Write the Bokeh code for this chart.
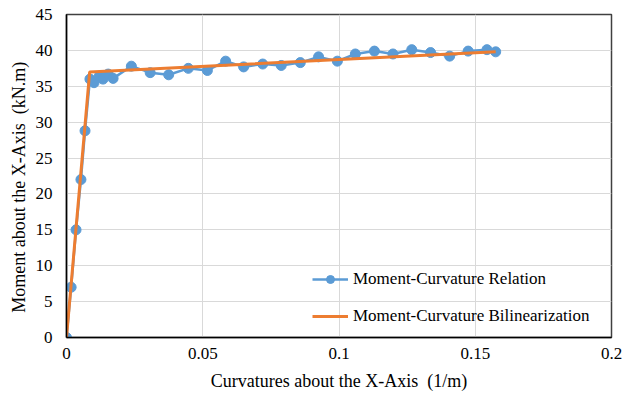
from bokeh.plotting import figure
from bokeh.models import Range1d, FixedTicker, Legend, LegendItem
from bokeh.embed import file_html
from bokeh.resources import INLINE

# Moment-curvature response (curvature in 1/m, moment in kN.m)
curvature = [0.0, 0.0017, 0.0035, 0.0053, 0.0068, 0.0086, 0.0101, 0.0120, 0.0134,
             0.0153, 0.0171, 0.0238, 0.0307, 0.0375, 0.0447, 0.0517, 0.0584,
             0.0650, 0.0720, 0.0788, 0.0858, 0.0925, 0.0994, 0.1060, 0.1130,
             0.1198, 0.1267, 0.1336, 0.1406, 0.1474, 0.1543, 0.1575]
moment = [0.0, 7.0, 15.0, 22.0, 28.8, 36.0, 35.5, 36.4, 36.0,
          36.7, 36.1, 37.8, 36.9, 36.6, 37.5, 37.2, 38.5,
          37.7, 38.1, 37.9, 38.3, 39.1, 38.5, 39.5, 39.9,
          39.5, 40.1, 39.7, 39.2, 39.9, 40.1, 39.8]

# Bilinear idealisation
bilin_curv = [0.0, 0.0085, 0.1575]
bilin_moment = [0.0, 37.0, 39.8]

x_ticks = [0, 0.05, 0.1, 0.15, 0.2]
x_tick_labels = ["0", "0.05", "0.1", "0.15", "0.2"]
y_ticks = [0, 5, 10, 15, 20, 25, 30, 35, 40, 45]

FONT = "Liberation Serif"
BLUE = "#5B9BD5"
ORANGE = "#ED7D31"
NBSP = "\u00a0"

p = figure(width=625, height=396, output_backend="svg", toolbar_location=None,
           x_range=Range1d(0, 0.2), y_range=Range1d(0, 45),
           min_border_left=66, min_border_right=14, min_border_top=14,
           min_border_bottom=59)

p.background_fill_color = "white"
p.border_fill_color = "white"
p.outline_line_color = "#404040"
p.outline_line_width = 1.5

for ax in (p.xaxis, p.yaxis):
    ax.major_tick_line_color = None
    ax.minor_tick_line_color = None
    ax.major_tick_out = 0
    ax.major_tick_in = 0
    ax.axis_line_color = "black"
    ax.axis_line_width = 1.5
    ax.major_label_text_font = FONT
    ax.major_label_text_font_size = "17px"
    ax.major_label_text_color = "#000000"
    ax.axis_label_text_font = FONT
    ax.axis_label_text_font_size = "18px"
    ax.axis_label_text_font_style = "normal"
    ax.axis_label_text_color = "#000000"

p.xaxis.ticker = FixedTicker(ticks=x_ticks)
p.xaxis.major_label_overrides = {t: l for t, l in zip(x_ticks, x_tick_labels)}
p.yaxis.ticker = FixedTicker(ticks=y_ticks)
p.xaxis.axis_label = "Curvatures about the X-Axis" + NBSP * 2 + "(1/m)"
p.yaxis.axis_label = "Moment about the X-Axis" + NBSP * 2 + "(kN.m)" + NBSP * 5
p.xaxis.major_label_standoff = 10
p.xaxis.axis_label_standoff = 9
p.yaxis.major_label_standoff = 14
p.yaxis.axis_label_standoff = 4

p.xgrid.grid_line_color = "#d9d9d9"
p.ygrid.grid_line_color = "#d9d9d9"
p.xgrid.grid_line_width = 1
p.ygrid.grid_line_width = 1

rel_line = p.line(curvature, moment, line_color=BLUE, line_width=2.5)
rel_pts = p.scatter(curvature, moment, size=10, fill_color=BLUE, line_color=BLUE)
bil_line = p.line(bilin_curv, bilin_moment, line_color=ORANGE, line_width=3)

legend = Legend(items=[
    LegendItem(label="Moment-Curvature Relation", renderers=[rel_line, rel_pts]),
    LegendItem(label="Moment-Curvature Bilinearization", renderers=[bil_line]),
], location=(246, 11))
legend.label_text_font = FONT
legend.label_text_font_size = "17px"
legend.label_text_color = "#000000"
legend.glyph_width = 36
legend.glyph_height = 20
legend.label_height = 20
legend.spacing = 17
legend.padding = 0
legend.margin = 0
legend.label_standoff = 5
legend.border_line_color = None
legend.background_fill_alpha = 0
p.add_layout(legend, "center")

open("out.html", "w").write(file_html(p, INLINE))
